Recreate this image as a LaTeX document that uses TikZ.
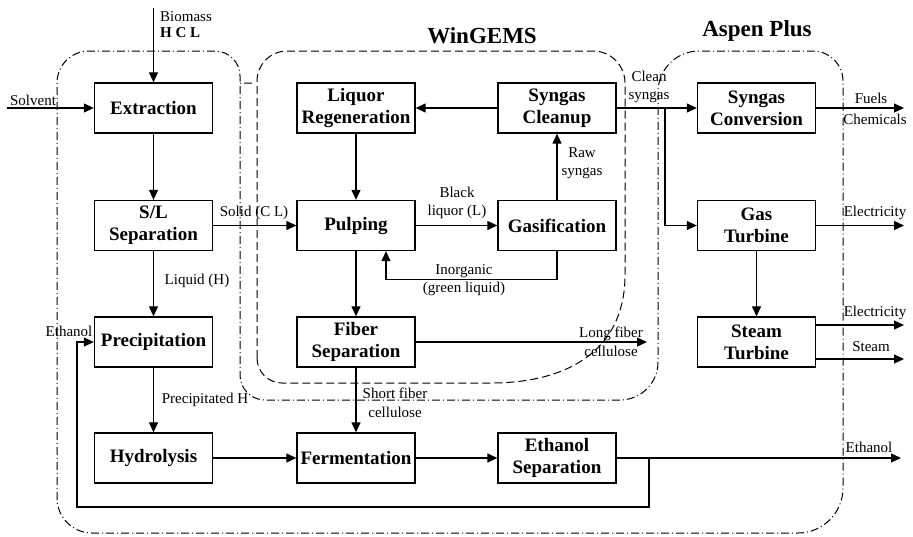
\documentclass[tikz,border=0pt]{standalone}
\usepackage{fontspec}
\setmainfont{Liberation Serif}
\usetikzlibrary{arrows.meta,calc}
\tikzset{
  box/.style={draw, line width=1.3pt, minimum width=118pt, minimum height=50pt, inner sep=0pt, align=center, font=\fontsize{19}{22}\selectfont\bfseries},
  lbl/.style={inner sep=0pt, align=center, font=\fontsize{15}{18.5}\selectfont},
  blbl/.style={inner sep=0pt, align=center, font=\fontsize{15}{18.5}\selectfont\bfseries},
  ttl/.style={inner sep=0pt, font=\fontsize{23}{26}\selectfont\bfseries},
  arr/.style={draw, line width=1.2pt, -{Triangle[length=10pt,width=9pt]}},
  ln/.style={draw, line width=1.2pt},
  dashdot/.style={line width=1pt, dash pattern=on 8pt off 3pt on 1pt off 3pt},
  dashedline/.style={line width=1pt, dash pattern=on 8pt off 4pt}
}
\begin{document}
\begin{tikzpicture}[x=1pt,y=-1pt]
\useasboundingbox (0,0) rectangle (913,536);
% boundaries
\draw[dashdot] (252,83) -- (240,83) -- (240,375) .. controls (240,388.8) and (251.2,400) .. (265,400)
  -- (620,400) .. controls (641,400) and (658,383) .. (658,362)
  -- (658,92) .. controls (658,69.4) and (676.4,51) .. (699,51)
  -- (813,51) .. controls (829.6,51) and (843,64.4) .. (843,81)
  -- (843,488) .. controls (843,512.8) and (822.8,533) .. (798,533)
  -- (92,533) .. controls (72.7,533) and (57,517.3) .. (57,498)
  -- (57,83) .. controls (57,65.3) and (71.3,51) .. (89,51)
  -- (215,51) .. controls (228.8,51) and (240,62.2) .. (240,76) -- (240,83);
\draw[dashedline] (257,358) -- (257,81) .. controls (257,64.4) and (270.4,51) .. (287,51)
  -- (593,51) .. controls (610.7,51) and (625,65.3) .. (625,83)
  -- (625,275) .. controls (625,345) and (575,383) .. (490,383)
  -- (282,383) .. controls (268.2,383) and (257,371.8) .. (257,358);
% titles
\node[ttl] (twin) at (482,36) {WinGEMS};
\node[ttl] (tasp) at (757,31) {Aspen Plus};
% boxes
\node[box] (ext) at (153.5,108) {Extraction};
\node[box] (sl) at (153.5,225.5) {S/L\\Separation};
\node[box] (pre) at (153.5,342) {Precipitation};
\node[box] (hyd) at (153.5,458) {Hydrolysis};
\node[box] (lr) at (356,108) {Liquor\\Regeneration};
\node[box] (pul) at (356,225.5) {Pulping};
\node[box] (fib) at (356,342) {Fiber\\Separation};
\node[box] (fer) at (356,458) {Fermentation};
\node[box] (sc) at (557,108) {Syngas\\Cleanup};
\node[box] (gas) at (557,225.5) {Gasification};
\node[box] (es) at (557,458) {Ethanol\\Separation};
\node[box] (conv) at (756.5,108) {Syngas\\Conversion};
\node[box] (gt) at (756.5,225.5) {Gas\\Turbine};
\node[box] (st) at (756.5,342) {Steam\\Turbine};
% free ends
\coordinate (bio) at (153.5,8);
\coordinate (solv) at (7,108);
\coordinate (ethout) at (901,458);
\coordinate (eloop) at (649,458);
\coordinate (lp2) at (77,507);
\coordinate (lfend) at (647,342);
\coordinate (br) at (665,108);
\coordinate (fuelout) at (904,108);
\coordinate (elout) at (904,225.5);
\coordinate (el2out) at (904,325);
\coordinate (stout) at (904,359);
% connectors
\draw[arr] (bio) -- (ext);
\draw[arr] (solv) -- (ext);
\draw[arr] (ext) -- (sl);
\draw[arr] (sl) -- (pul);
\draw[arr] (sl) -- (pre);
\draw[arr] (pre) -- (hyd);
\draw[arr] (hyd) -- (fer);
\draw[arr] (fer) -- (es);
\draw[arr] (es) -- (ethout);
\draw[arr] (eloop) |- (lp2) |- (pre.west);
\draw[arr] (lr) -- (pul);
\draw[arr] (pul) -- (fib);
\draw[arr] (fib) -- (fer);
\draw[arr] (fib) -- (lfend);
\draw[arr] (pul) -- (gas);
\draw[arr] (gas) -- (sc);
\draw[arr] (sc) -- (lr);
\draw[arr] (gas.south) -- ++(0,28.5) -| ([xshift=30pt]pul.south);
\draw[arr] (sc) -- (conv);
\draw[arr] (br) |- (gt.west);
\draw[arr] (conv) -- (fuelout);
\draw[arr] (gt) -- (elout);
\draw[arr] (gt) -- (st);
\draw[arr] (st.east |- el2out) -- (el2out);
\draw[arr] (st.east |- stout) -- (stout);
% labels
\node[lbl,anchor=west] (lbio) at (160,17) {Biomass};
\node[blbl,anchor=west] (lhcl) at (160,33) {H C L};
\node[lbl] (lsolv) at (33,100) {Solvent};
\node[lbl] (lsolid) at (254,213) {Solid (C L)};
\node[lbl] (lliq) at (197,281) {Liquid (H)};
\node[lbl] (leth1) at (69,331) {Ethanol};
\node[lbl] (lprec) at (205,400) {Precipitated H};
\node[lbl] (lshort) at (395,403) {Short fiber\\cellulose};
\node[lbl] (lblack) at (457,203) {Black\\liquor (L)};
\node[lbl] (linorg) at (464,280) {Inorganic\\(green liquid)};
\node[lbl] (llong) at (611,342) {Long fiber\\cellulose};
\node[lbl] (lraw) at (582,163) {Raw\\syngas};
\node[lbl] (lclean) at (649,87) {Clean\\syngas};
\node[lbl] (lfuels) at (871,98) {Fuels};
\node[lbl] (lchem) at (875,119) {Chemicals};
\node[lbl] (lelec1) at (875,213) {Electricity};
\node[lbl] (lelec2) at (875,313) {Electricity};
\node[lbl] (lsteam) at (871,347) {Steam};
\node[lbl] (leth2) at (869,447) {Ethanol};
\end{tikzpicture}
\end{document}
